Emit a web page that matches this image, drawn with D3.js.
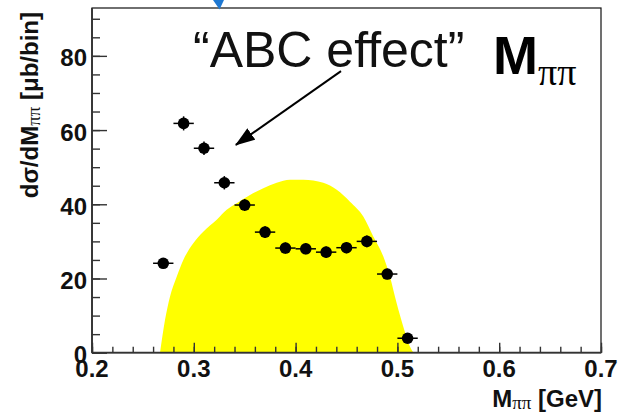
<!DOCTYPE html>
<html>
<head>
<meta charset="utf-8">
<script src="https://cdn.jsdelivr.net/npm/d3@7"></script>
<style>
  html, body { margin: 0; padding: 0; background: #fff; }
  svg { display: block; }
</style>
</head>
<body>
<svg id="chart" width="619" height="414"></svg>
<script>
// Measured d(sigma)/dM_pipi per 20 MeV bin (bin centres in GeV)
const binCenters = [0.27, 0.29, 0.31, 0.33, 0.35, 0.37, 0.39, 0.41, 0.43, 0.45, 0.47, 0.49, 0.51];
const crossSection = [24.1, 61.8, 55.1, 45.8, 39.8, 32.5, 28.2, 28.0, 27.1, 28.3, 30.0, 21.2, 3.9];
const crossSectionErr = [1.4, 1.9, 1.8, 1.8, 1.6, 1.6, 1.5, 1.5, 1.5, 1.5, 1.6, 1.4, 0.8];
const binHalfWidth = 0.01;

// Phase-space expectation (outline of the shaded region)
const phaseSpaceMass = [0.2668, 0.2717, 0.2766, 0.2832, 0.2897, 0.2995, 0.3093, 0.3225, 0.3323,
  0.3421, 0.3552, 0.3683, 0.3814, 0.3945, 0.4076, 0.4272, 0.4404, 0.4534, 0.4665, 0.4763,
  0.4862, 0.4927, 0.4993, 0.5058, 0.5124, 0.5157];
const phaseSpaceYield = [0, 8.8, 15.1, 20.5, 25.0, 29.5, 32.6, 35.8, 38.5,
  40.3, 42.5, 44.3, 45.8, 46.6, 46.6, 45.8, 43.9, 40.7, 36.7, 31.3,
  25.9, 20.5, 13.3, 7.0, 1.6, 0];

// Axis ticks
const xMajorTicks = [0.2, 0.3, 0.4, 0.5, 0.6, 0.7];
const yMajorTicks = [0, 20, 40, 60, 80];

// "ABC effect" arrow: tail and head in data units
const arrowTail = [0.4446, 75.9];
const arrowHead = [0.3413, 56.0];

const sans = "'Liberation Sans', Arial, Helvetica, sans-serif";
const serif = "'Liberation Serif', 'Times New Roman', serif";

const svg = d3.select("#chart");
const plot = { left: 92, right: 601, top: 8, bottom: 352.7 };

const x = d3.scaleLinear().domain([0.2, 0.7]).range([plot.left, plot.right]);
const y = d3.scaleLinear().domain([0, 92.9]).range([plot.bottom, plot.top]);

// Shaded phase-space distribution
const psData = phaseSpaceMass.map((m, i) => ({ m, v: phaseSpaceYield[i] }));
svg.append("path")
  .datum(psData)
  .attr("fill", "#ffff00")
  .attr("d", d3.area()
    .x(d => x(d.m))
    .y0(y(0))
    .y1(d => y(d.v))
    .curve(d3.curveMonotoneX));

// Frame
svg.append("rect")
  .attr("x", plot.left).attr("y", plot.top)
  .attr("width", plot.right - plot.left).attr("height", plot.bottom - plot.top)
  .attr("fill", "none").attr("stroke", "#111").attr("stroke-width", 1.2);

// Ticks drawn inward, in the ROOT style
const xMinor = d3.range(0.2, 0.7001, 0.02);
const yMinor = d3.range(0, 92.9, 5);

svg.append("g").attr("transform", `translate(0,${plot.bottom})`)
  .call(d3.axisTop(x).tickValues(xMinor).tickSize(6).tickFormat(""))
  .call(g => g.select(".domain").remove())
  .call(g => g.selectAll("line").attr("stroke", "#333").attr("stroke-width", 1.4));
svg.append("g").attr("transform", `translate(0,${plot.bottom})`)
  .call(d3.axisTop(x).tickValues(xMajorTicks).tickSize(10).tickFormat(""))
  .call(g => g.select(".domain").remove())
  .call(g => g.selectAll("line").attr("stroke", "#333").attr("stroke-width", 1.4));

svg.append("g").attr("transform", `translate(${plot.left},0)`)
  .call(d3.axisRight(y).tickValues(yMinor).tickSize(8).tickFormat(""))
  .call(g => g.select(".domain").remove())
  .call(g => g.selectAll("line").attr("stroke", "#333").attr("stroke-width", 1.4));
svg.append("g").attr("transform", `translate(${plot.left},0)`)
  .call(d3.axisRight(y).tickValues(yMajorTicks).tickSize(15).tickFormat(""))
  .call(g => g.select(".domain").remove())
  .call(g => g.selectAll("line").attr("stroke", "#333").attr("stroke-width", 1.4));

// Axis lines
svg.append("line").attr("x1", plot.left).attr("x2", plot.right)
  .attr("y1", plot.bottom).attr("y2", plot.bottom)
  .attr("stroke", "#333").attr("stroke-width", 1.8);
svg.append("line").attr("x1", plot.left).attr("x2", plot.left)
  .attr("y1", plot.top).attr("y2", plot.bottom)
  .attr("stroke", "#333").attr("stroke-width", 1.8);

// Tick labels
svg.append("g").selectAll("text").data(xMajorTicks).join("text")
  .attr("x", d => x(d)).attr("y", plot.bottom + 24)
  .attr("text-anchor", "middle")
  .attr("font-family", sans).attr("font-weight", "bold").attr("font-size", 24)
  .attr("fill", "#111")
  .text(d => d3.format(".1f")(d));

svg.append("g").selectAll("text").data(yMajorTicks).join("text")
  .attr("x", plot.left - 5).attr("y", d => y(d) + 10.5)
  .attr("text-anchor", "end")
  .attr("font-family", sans).attr("font-weight", "bold").attr("font-size", 24)
  .attr("fill", "#111")
  .text(d => d);

// Axis titles
const xTitle = svg.append("text")
  .attr("x", plot.right + 1).attr("y", 406.5)
  .attr("text-anchor", "end")
  .attr("font-family", sans).attr("font-weight", "bold").attr("font-size", 24)
  .attr("fill", "#111");
xTitle.append("tspan").text("M");
xTitle.append("tspan").attr("font-family", serif).attr("font-weight", "normal")
  .attr("font-size", 19).attr("dy", 2).text("ππ");
xTitle.append("tspan").attr("dy", -2).text(" [GeV]");

const yTitle = svg.append("text")
  .attr("transform", "translate(38,12) rotate(-90)")
  .attr("text-anchor", "end")
  .attr("font-family", sans).attr("font-weight", "bold").attr("font-size", 24)
  .attr("fill", "#111");
yTitle.append("tspan").text("dσ/dM");
yTitle.append("tspan").attr("font-family", serif).attr("font-weight", "normal")
  .attr("font-size", 19).attr("dy", 2).text("ππ");
yTitle.append("tspan").attr("dy", -2).text(" [μb/bin]");

// Data points with error bars
const pts = binCenters.map((m, i) => ({ m, v: crossSection[i], e: crossSectionErr[i] }));
const pg = svg.append("g");
pg.selectAll("line.h").data(pts).join("line").attr("class", "h")
  .attr("x1", d => x(d.m - binHalfWidth)).attr("x2", d => x(d.m + binHalfWidth))
  .attr("y1", d => y(d.v)).attr("y2", d => y(d.v))
  .attr("stroke", "#000").attr("stroke-width", 1.5);
pg.selectAll("line.v").data(pts).join("line").attr("class", "v")
  .attr("x1", d => x(d.m)).attr("x2", d => x(d.m))
  .attr("y1", d => y(d.v - d.e)).attr("y2", d => y(d.v + d.e))
  .attr("stroke", "#000").attr("stroke-width", 1.5);
pg.selectAll("circle").data(pts).join("circle")
  .attr("cx", d => x(d.m)).attr("cy", d => y(d.v)).attr("r", 5.8)
  .attr("fill", "#000");

// Annotation
svg.append("text")
  .attr("x", 193).attr("y", 67)
  .attr("font-family", sans).attr("font-size", 50).attr("fill", "#111")
  .text("“ABC effect”");

const defs = svg.append("defs");
defs.append("marker")
  .attr("id", "head").attr("viewBox", "0 0 20 14")
  .attr("refX", 19).attr("refY", 7)
  .attr("markerWidth", 20).attr("markerHeight", 14)
  .attr("markerUnits", "userSpaceOnUse")
  .attr("orient", "auto")
  .append("path").attr("d", "M0,0 L20,7 L0,14 Z").attr("fill", "#000");

svg.append("line")
  .attr("x1", x(arrowTail[0])).attr("y1", y(arrowTail[1]))
  .attr("x2", x(arrowHead[0])).attr("y2", y(arrowHead[1]))
  .attr("stroke", "#000").attr("stroke-width", 2)
  .attr("marker-end", "url(#head)");

// Plot name
const name = svg.append("text")
  .attr("x", 493).attr("y", 73.5)
  .attr("font-family", sans).attr("font-weight", "bold").attr("font-size", 54)
  .attr("fill", "#000");
name.append("tspan").text("M");
name.append("tspan").attr("font-family", serif).attr("font-weight", "normal")
  .attr("font-size", 38).attr("dy", 11.5).text("ππ");

// Blue pointer at the top edge
svg.append("path")
  .attr("d", "M213,0 L224,0 L219.5,9.5 Z")
  .attr("fill", "#1e78d2");
</script>
</body>
</html>
